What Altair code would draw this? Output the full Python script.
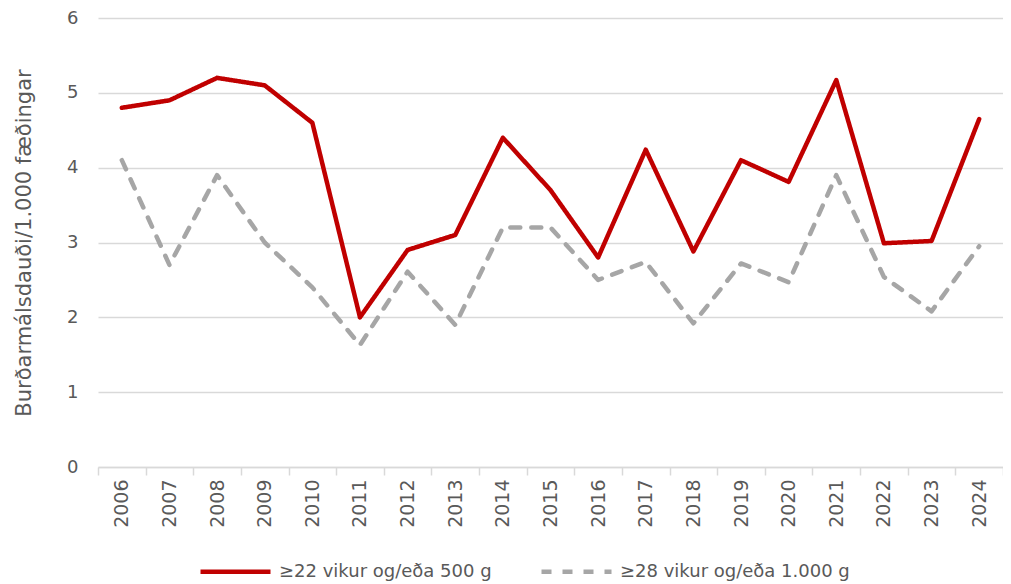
import altair as alt
import pandas as pd

years = [str(y) for y in range(2006, 2025)]
series_a = "≥22 vikur og/eða 500 g"
series_b = "≥28 vikur og/eða 1.000 g"
values_a = [4.8, 4.9, 5.2, 5.1, 4.6, 2.0, 2.9, 3.1, 4.4, 3.7, 2.8, 4.24, 2.88, 4.1, 3.81, 5.17, 2.99, 3.02, 4.65]
values_b = [4.1, 2.7, 3.9, 3.0, 2.4, 1.63, 2.61, 1.9, 3.2, 3.2, 2.5, 2.74, 1.92, 2.72, 2.47, 3.9, 2.54, 2.08, 2.95]

df = pd.DataFrame({
    "year": years * 2,
    "value": values_a + values_b,
    "series": [series_a] * len(years) + [series_b] * len(years),
})

FONT = "DejaVu Sans"
TXT = "#595959"
GRID = "#d9d9d9"

chart = alt.Chart(df).mark_line(strokeWidth=4.5, strokeCap="round", strokeJoin="round").encode(
    x=alt.X("year:O", bandPosition=0.5,
            scale=alt.Scale(type="band", paddingInner=0, paddingOuter=0),
            axis=alt.Axis(title=None, labelAngle=-90, labelFontSize=19, labelColor=TXT,
                          labelFont=FONT, tickBand="extent", tickColor=GRID, tickSize=8,
                          tickWidth=1.5, domainColor=GRID, domainWidth=1.5, labelPadding=4,
                          grid=False)),
    y=alt.Y("value:Q", scale=alt.Scale(domain=[0, 6], nice=False),
            axis=alt.Axis(title="Burðarmálsdauði/1.000 fæðingar", values=[0, 1, 2, 3, 4, 5, 6],
                          titleFont=FONT, titleFontSize=21, titleFontWeight="normal",
                          titleColor=TXT, labelFont=FONT, labelFontSize=18, labelColor=TXT,
                          labelPadding=20, ticks=False, domain=False, gridColor=GRID,
                          gridWidth=1.5, titlePadding=32)),
    color=alt.Color("series:N", sort=[series_a, series_b],
                    scale=alt.Scale(domain=[series_a, series_b], range=["#c00000", "#a6a6a6"]),
                    legend=alt.Legend(title=None, orient="none", direction="horizontal",
                                      legendX=100, legendY=516, symbolType="stroke",
                                      symbolSize=4900, symbolStrokeWidth=4.5,
                                      labelFont=FONT, labelFontSize=18, labelColor=TXT,
                                      labelLimit=400, columnPadding=40, labelOffset=6)),
    strokeDash=alt.StrokeDash("series:N", sort=[series_a, series_b],
                              scale=alt.Scale(domain=[series_a, series_b], range=[[1, 0], [10, 11]]),
                              legend=None),
).properties(
    width=905, height=449,
    padding={"left": 90, "top": 10, "right": 0, "bottom": 118},
    autosize=alt.AutoSizeParams(type="none"),
).configure_view(stroke=None)

chart.save("out.html", embed_options={"renderer": "svg", "actions": False})
